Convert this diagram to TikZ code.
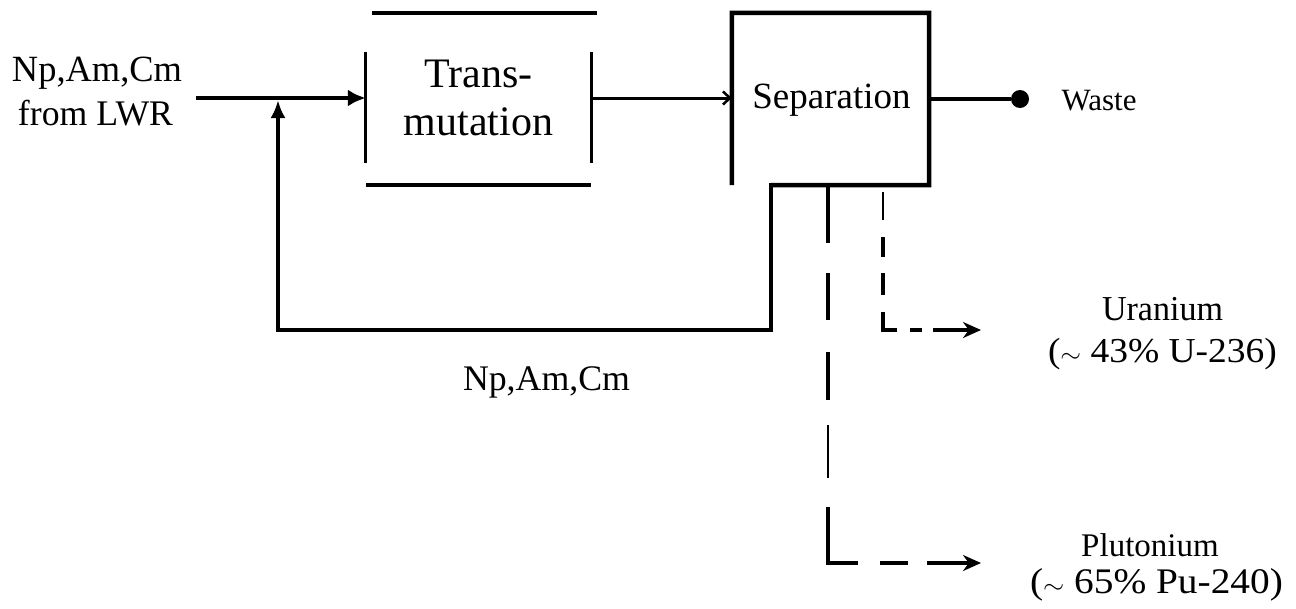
\documentclass[tikz,border=0pt]{standalone}
\usepackage{graphicx}
\usepackage{fontspec}
\setmainfont{Liberation Serif}
\usetikzlibrary{arrows.meta}
\newcommand{\txtsize}[1]{\fontsize{#1pt}{#1pt}\selectfont}
% set a text to a given width, keeping its height
\newcommand{\wide}[2]{\resizebox{#1pt}{\height}{#2}}

\begin{document}
\begin{tikzpicture}[x=1pt,y=-1pt,
  heavy/.style={line width=4.5pt},
  bar/.style={line width=3.3pt},
  thinseg/.style={line width=1.3pt},
  dashbranch/.style={line width=3.5pt,-{Stealth[length=18pt,width=16pt]}},
  lbl/.style={inner sep=0pt,anchor=base},
  hidden/.style={inner sep=0pt,draw=none}]
\useasboundingbox (0,0) rectangle (1296,608);

% ---- frames of the two process blocks ----
\node[hidden,minimum width=225pt,minimum height=111pt] (trans) at (478.5,107.5) {};
\node[hidden,minimum width=197pt,minimum height=172pt] (sep) at (830.5,99) {};

% Transmutation: open frame made of four separate strokes
\draw[heavy] (372,13) -- (597,13);
\draw[heavy] (366,185) -- (591,185);
\draw[bar] (trans.north west) -- (trans.south west);
\draw[bar] (trans.north east) -- (trans.south east);

% Separation: box whose bottom edge turns into the recycle line
\coordinate (fbA) at (771,185);
\draw[heavy,line join=miter] (sep.south west) -- (sep.north west) -- (sep.north east) -- (sep.south east) -- (fbA);

% ---- texts ----
\node[lbl,font=\txtsize{37}] (srcA) at (97,81) {\wide{170}{Np,Am,Cm}};
\node[lbl,font=\txtsize{36}] (srcB) at (95.5,125) {\wide{155}{from LWR}};
\node[lbl,font=\txtsize{42}] (trA) at (478.5,87) {Trans-};
\node[lbl,font=\txtsize{42}] (trB) at (478.5,135) {mutation};
\node[lbl,font=\txtsize{37}] (sepT) at (831.5,108) {Separation};
\node[lbl,font=\txtsize{31}] (waste) at (1099,110) {Waste};
\node[lbl,font=\txtsize{36}] (rec) at (546.5,390) {\wide{167}{Np,Am,Cm}};
\node[lbl,font=\txtsize{35}] (uA) at (1162.5,320) {\wide{121}{Uranium}};
\node[lbl,font=\txtsize{35}] (uB) at (1162.5,362) {\wide{229}{($\sim$ 43\% U-236)}};
\node[lbl,font=\txtsize{33}] (pA) at (1150,556) {Plutonium};
\node[lbl,font=\txtsize{36}] (pB) at (1156.5,593) {\wide{253}{($\sim$ 65\% Pu-240)}};

% ---- connectors ----
\coordinate (feed) at (196,98);
\draw[heavy,-{Latex[length=18pt,width=17pt]}] (feed) -- (feed -| trans.west);
\draw[line width=3pt,-{Straight Barb[length=7pt,width=13pt,line width=2.5pt]}]
  (trans.east |- feed) -- (sep.west |- feed);

% recycle loop back into the feed line
\coordinate (fbB) at (771,330);
\coordinate (fbC) at (278,330);
\coordinate (fbD) at (278,100);
\draw[heavy,line cap=rect,line join=miter,-{Latex[length=18pt,width=15pt]}]
  (fbA) -- (fbB) -- (fbC) -- (fbD);

% waste outlet
\node[circle,fill,inner sep=0pt,minimum size=18pt] (wdot) at (1020,99) {};
\draw[heavy] (sep.east) -- (wdot);

% uranium branch
\coordinate (uTop) at (883,185);
\coordinate (uCorner) at (883,330);
\coordinate (uTip) at (981,330);
\draw[thinseg] (883,192) -- (883,220);
\draw[dashbranch,dash pattern=on 0pt off 52pt on 20pt off 16pt on 22pt off 17pt on 32pt off 13pt on 12pt off 11pt on 90pt]
  (uTop) -- (uCorner) -- (uTip);

% plutonium branch
\coordinate (pTop) at (828,185);
\coordinate (pCorner) at (828,563);
\coordinate (pTip) at (981,563);
\draw[thinseg] (828,425) -- (828,478);
\draw[dashbranch,dash pattern=on 58pt off 30pt on 47pt off 32pt on 48pt off 107pt on 86pt off 22pt on 28pt off 19pt on 90pt]
  (pTop) -- (pCorner) -- (pTip);
\end{tikzpicture}
\end{document}
